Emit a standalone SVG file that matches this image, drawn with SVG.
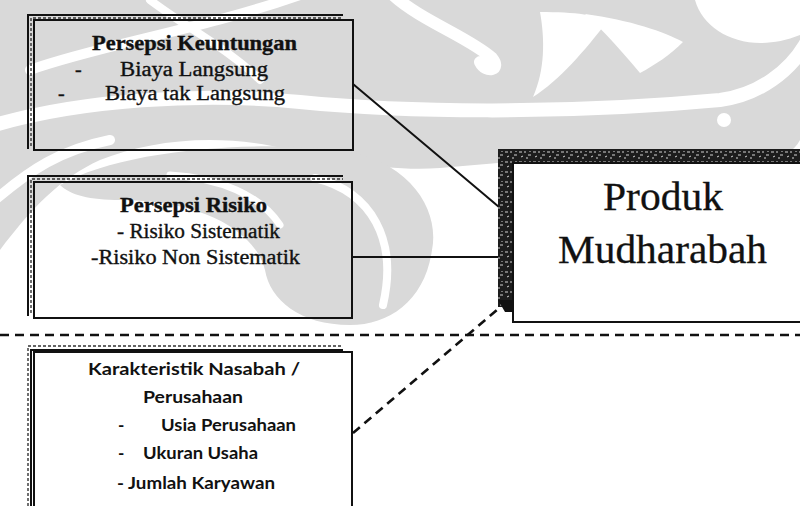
<svg xmlns="http://www.w3.org/2000/svg" width="800" height="506" viewBox="0 0 800 506">
<style>
.wm{fill:#d9d9d9;stroke:none}
.wc{fill:none;stroke:#ffffff;stroke-linecap:round}
.box{fill:none;stroke:#111;stroke-width:2}
.sh{fill:none;stroke:#111;stroke-width:2}
.shn{fill:none;stroke:#333;stroke-width:1.4;stroke-dasharray:3 2}
.ser{font-family:"Liberation Serif","Times New Roman",serif;fill:#111;stroke:#111;stroke-width:0.35;font-size:20px}
.b{font-weight:bold}
.sans{font-family:Lato,"Open Sans","Liberation Sans",sans-serif;fill:#111;font-weight:bold;font-size:17px}
.big{font-family:"Liberation Serif","Times New Roman",serif;fill:#111;stroke:#111;stroke-width:0.3;font-size:39px}
.conn{fill:none;stroke:#111;stroke-width:2}
.dash{fill:none;stroke:#111;stroke-width:2.6;stroke-dasharray:9 6}
</style>
<defs>
<pattern id="grain" width="14" height="10" patternUnits="userSpaceOnUse">
<rect width="14" height="10" fill="#1c1c1c"/>
<path d="M1,2 h3 M7,1 v2 M10,5 h3 M3,7 l2,-1 M8,8 h2 M12,1 v1" stroke="#fff" stroke-width="1" opacity="0.8"/>
</pattern>
</defs>
<rect width="800" height="506" fill="#ffffff"/>
<g id="watermark">
<path class="wm" d="M0,0 H800 V140 C790,160 760,165 730,150 C660,145 540,160 440,168 C390,172 330,160 290,150 C220,132 150,140 100,160 C60,178 30,210 0,250 Z"/>
<path class="wm" d="M60,185 C120,150 250,140 340,150 C410,160 440,210 432,250 C425,300 390,325 350,325 C300,325 270,300 265,270 C255,230 200,200 120,200 C90,200 70,195 60,185 Z"/>
<path class="wc" stroke-width="14" d="M-5,125 C80,100 200,92 300,102 C400,112 560,115 720,100 C760,95 790,70 805,45"/>
<path class="wc" stroke-width="12" d="M393,-5 C420,20 470,38 492,58 C502,70 486,74 480,62"/>
<path class="wc" stroke-width="10" d="M30,70 C100,45 200,30 300,-5"/>
<path class="wc" stroke-width="10" d="M-5,200 C30,170 60,150 110,140"/>
<path class="wc" stroke-width="8" d="M150,0 C190,30 230,50 260,80"/>
<path class="wc" stroke-width="8" d="M315,178 C372,192 398,240 383,305"/>
<path class="wc" stroke-width="7" d="M170,175 C220,178 260,195 280,225"/>
<path fill="#ffffff" d="M540,12 C575,12 600,15 607,22 C585,50 560,80 533,97 C545,70 545,40 540,12 Z"/>
<path fill="#ffffff" d="M585,14 C630,20 665,32 683,42 C670,55 655,65 640,73 C625,55 605,32 585,14 Z"/>
<path fill="#ffffff" d="M695,0 C705,35 750,55 800,35 V0 Z"/>
<circle cx="724" cy="120" r="7" fill="#ffffff"/>
</g>
<g id="connectors">
<path class="conn" d="M353,84 L499,207"/>
<path class="conn" d="M353,257 L499,257"/>
<path class="dash" stroke-width="2.4" stroke-dasharray="8 6" d="M353,433 L498,309"/>
<path class="dash" d="M0,335 H800"/>
</g>
<g id="persepsi-keuntungan">
<path class="sh" d="M28,149 V15 H343"/>
<path class="shn" d="M31,146 V18 H343"/>
<rect class="box" x="34" y="20" width="319" height="130"/>
<text class="ser b" x="92" y="50" textLength="205" lengthAdjust="spacingAndGlyphs">Persepsi Keuntungan</text>
<text class="ser" x="75" y="76">-</text>
<text class="ser" x="120" y="76" textLength="148" lengthAdjust="spacingAndGlyphs">Biaya Langsung</text>
<text class="ser" x="58" y="100">-</text>
<text class="ser" x="105" y="100" textLength="180" lengthAdjust="spacingAndGlyphs">Biaya tak Langsung</text>
</g>
<g id="persepsi-risiko">
<path class="sh" d="M28,316 V176 H343"/>
<path class="shn" d="M31,313 V179 H343"/>
<rect class="box" x="34" y="182" width="318" height="136"/>
<text class="ser b" x="120" y="212" textLength="147" lengthAdjust="spacingAndGlyphs">Persepsi Risiko</text>
<text class="ser" x="117" y="238" textLength="163" lengthAdjust="spacingAndGlyphs">- Risiko Sistematik</text>
<text class="ser" x="91" y="264" textLength="209" lengthAdjust="spacingAndGlyphs">-Risiko Non Sistematik</text>
</g>
<g id="karakteristik-nasabah">
<path class="shn" d="M28,506 V346 H343"/>
<path class="sh" stroke-width="1.5" d="M31,506 V350 H343"/>
<path class="box" d="M34,506 V352 H352 V506"/>
<text class="sans" x="88" y="375" textLength="212" lengthAdjust="spacingAndGlyphs">Karakteristik Nasabah /</text>
<text class="sans" x="143" y="403" textLength="100" lengthAdjust="spacingAndGlyphs">Perusahaan</text>
<text class="sans" x="118" y="431">-</text>
<text class="sans" x="161" y="431" textLength="135" lengthAdjust="spacingAndGlyphs">Usia Perusahaan</text>
<text class="sans" x="118" y="459">-</text>
<text class="sans" x="143" y="459" textLength="115" lengthAdjust="spacingAndGlyphs">Ukuran Usaha</text>
<text class="sans" x="117" y="489" textLength="158" lengthAdjust="spacingAndGlyphs">- Jumlah Karyawan</text>
</g>
<g id="produk-mudharabah">
<path d="M498,149 H800 V163 H513 V307 H498 Z" fill="url(#grain)"/>
<path d="M498,300 h15 v12 h-8 z" fill="#111"/>
<path class="box" d="M801,163 H513 V322 H801"/>
<text class="big" x="603" y="210" textLength="120" lengthAdjust="spacingAndGlyphs">Produk</text>
<text class="big" x="558" y="263" textLength="209" lengthAdjust="spacingAndGlyphs">Mudharabah</text>
</g>
</svg>
